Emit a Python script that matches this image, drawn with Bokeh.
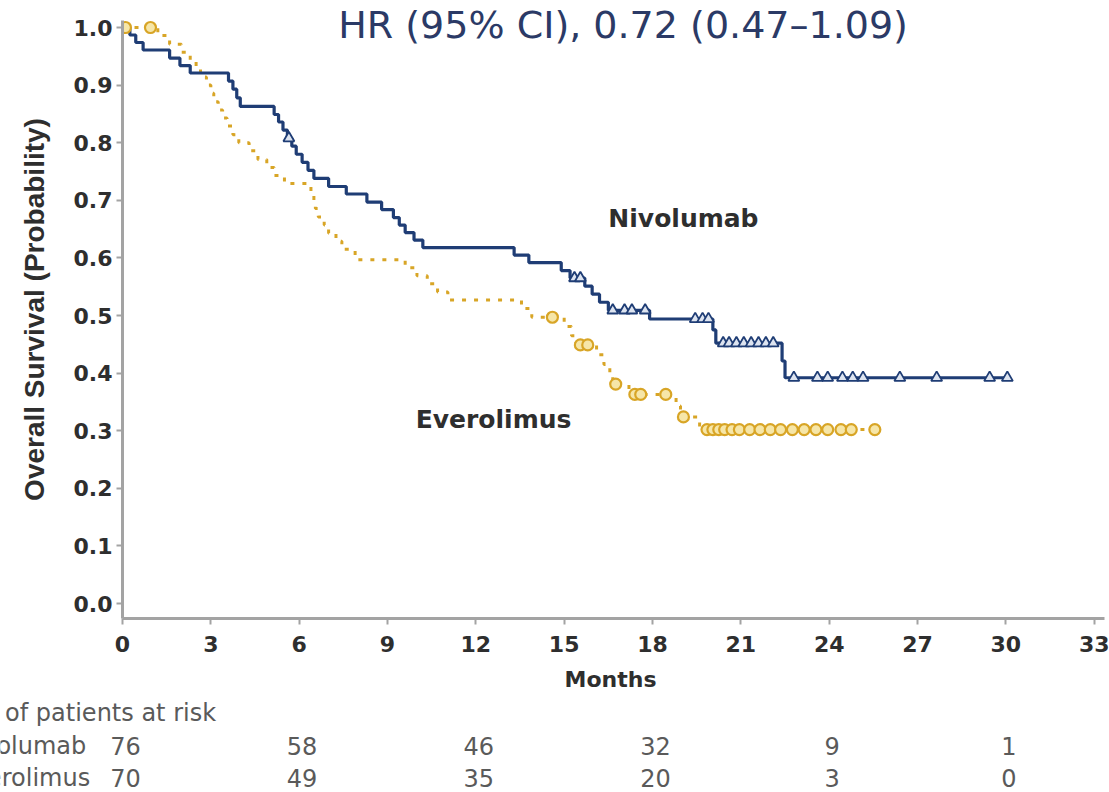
from bokeh.plotting import figure
from bokeh.layouts import column
from bokeh.models import Label, FixedTicker, NumeralTickFormatter, Range1d
from bokeh.embed import file_html
from bokeh.resources import INLINE

# ---- data -------------------------------------------------------------
month_ticks = list(range(0, 34, 3))
prob_ticks = [i / 10 for i in range(11)]

# Nivolumab: event times (months) and survival after each event
nivo_event_t = [0.25, 0.45, 0.70, 1.60, 1.95, 2.30, 3.60, 3.75, 3.88, 4.00,
                5.15, 5.30, 5.45, 5.60, 5.75, 5.90, 6.10, 6.30, 6.50, 7.00,
                7.60, 8.30, 8.80, 9.20, 9.40, 9.60, 9.90, 10.20, 13.30, 13.80,
                14.90, 15.20, 15.70, 15.95, 16.20, 16.50, 17.90, 20.05, 20.15,
                22.40, 22.50]
nivo_event_s = [0.987, 0.974, 0.961, 0.947, 0.934, 0.921, 0.907, 0.893, 0.878, 0.863,
                0.849, 0.836, 0.822, 0.808, 0.794, 0.780, 0.766, 0.752, 0.738, 0.724,
                0.711, 0.697, 0.684, 0.670, 0.657, 0.644, 0.631, 0.618, 0.605, 0.592,
                0.578, 0.565, 0.551, 0.537, 0.523, 0.509, 0.494, 0.475, 0.452,
                0.421, 0.392]
nivo_censor_t = [5.65, 15.35, 15.55, 16.65, 17.05, 17.30, 17.75, 19.45, 19.70, 19.90,
                 20.40, 20.60, 20.85, 21.10, 21.35, 21.60, 21.85, 22.10,
                 22.80, 23.60, 23.95, 24.45, 24.80, 25.15, 26.40, 27.65, 29.45, 30.05]

# Everolimus: event times (months) and survival after each event
evero_event_t = [1.20, 1.60, 2.00, 2.30, 2.50, 2.65, 2.85, 3.00, 3.10, 3.25,
                 3.40, 3.55, 3.75, 3.95, 4.30, 4.60, 4.90, 5.15, 5.50, 6.40,
                 6.50, 6.55, 6.65, 6.85, 7.00, 7.25, 7.45, 7.90, 9.60, 10.00,
                 10.35, 10.70, 11.05, 13.55, 13.90, 15.00, 15.25, 15.40, 16.10, 16.35,
                 16.55, 16.65, 17.20, 18.80, 18.95, 19.60]
evero_event_s = [0.986, 0.971, 0.957, 0.943, 0.929, 0.914, 0.900, 0.886, 0.871, 0.857,
                 0.843, 0.829, 0.814, 0.800, 0.786, 0.771, 0.757, 0.743, 0.729, 0.714,
                 0.700, 0.686, 0.671, 0.657, 0.643, 0.629, 0.615, 0.597, 0.583, 0.569,
                 0.555, 0.541, 0.527, 0.512, 0.497, 0.481, 0.465, 0.449, 0.432, 0.415,
                 0.398, 0.381, 0.363, 0.343, 0.324, 0.302]
evero_censor_t = [0.10, 0.95, 14.60, 15.55, 15.80, 16.75, 17.40, 17.60, 18.45, 19.05,
                  19.85, 20.05, 20.25, 20.45, 20.70, 20.95, 21.30, 21.65, 22.00,
                  22.35, 22.75, 23.15, 23.55, 23.95, 24.40, 24.75, 25.55]

# number at risk
risk_months = [0, 6, 12, 18, 24, 30]
nivo_at_risk = [76, 58, 46, 32, 9, 1]
evero_at_risk = [70, 49, 35, 20, 3, 0]

arms = ["Nivolumab", "Everolimus"]
hr_text = "HR (95% CI), 0.72 (0.47\u20131.09)"

# ---- styling ------------------------------------------------------------
NAVY = "#1f3d75"
GOLD = "#d8a526"
AXIS_GREY = "#a3a3a3"
TEXT_DARK = "#2e2e2e"
TEXT_GREY = "#5a5a5a"

W = 1109
LEFT, RIGHT = 122, 5
X_MAX = 33.35
MAIN_H = 664
TABLE_H = 792 - MAIN_H
PX_PER_MONTH = (W - LEFT - RIGHT) / X_MAX


def km_path(times, survs, end):
    xs = [0.0] + list(times) + [end]
    ys = [1.0] + list(survs) + [survs[-1]]
    return xs, ys


def surv_at(t, times, survs):
    s = 1.0
    for ti, si in zip(times, survs):
        if ti <= t:
            s = si
    return s


# ---- main survival plot ------------------------------------------------------
p = figure(width=W, height=MAIN_H,
           x_range=Range1d(0, X_MAX), y_range=Range1d(-0.026, 1.0469),
           output_backend="svg", toolbar_location=None,
           min_border_left=LEFT, min_border_right=RIGHT,
           min_border_top=0, min_border_bottom=MAIN_H - 618)
p.frame_align = False
p.outline_line_color = None
p.xgrid.visible = False
p.ygrid.visible = False
p.background_fill_color = "white"
p.border_fill_color = "white"

for ax in (p.xaxis[0], p.yaxis[0]):
    ax.axis_line_color = AXIS_GREY
    ax.axis_line_width = 3
    ax.major_tick_line_color = AXIS_GREY
    ax.major_tick_line_width = 2
    ax.major_tick_in = 0
    ax.major_tick_out = 6
    ax.minor_tick_line_color = None
    ax.major_label_text_font = "DejaVu Sans"
    ax.major_label_text_font_style = "bold"
    ax.major_label_text_font_size = "22px"
    ax.major_label_text_color = TEXT_DARK
    ax.axis_label_text_font_style = "bold"
    ax.axis_label_text_color = TEXT_DARK

p.xaxis.ticker = FixedTicker(ticks=month_ticks)
p.yaxis.ticker = FixedTicker(ticks=prob_ticks)
p.yaxis.formatter = NumeralTickFormatter(format="0.0")
p.yaxis.bounds = (-0.026, 1.012)
p.xaxis.major_label_standoff = 11
p.yaxis.major_label_standoff = 4

p.yaxis.axis_label = "Overall Survival (Probability)"
p.yaxis.axis_label_text_font = "Liberation Sans"
p.yaxis.axis_label_text_font_size = "28px"
p.yaxis.axis_label_standoff = 21

ex, ey = km_path(evero_event_t, evero_event_s, max(evero_censor_t))
p.step(ex, ey, mode="after", line_color=GOLD, line_width=3, line_dash="4 8")

nx, ny = km_path(nivo_event_t, nivo_event_s, max(nivo_censor_t))
p.step(nx, ny, mode="after", line_color=NAVY, line_width=3.2)

p.scatter(nivo_censor_t, [surv_at(t, nivo_event_t, nivo_event_s) for t in nivo_censor_t],
          marker="triangle", size=11, line_color=NAVY, line_width=1.8,
          fill_color="#dde4f0")
p.scatter(evero_censor_t, [surv_at(t, evero_event_t, evero_event_s) for t in evero_censor_t],
          marker="circle", size=11, line_color=GOLD, line_width=2.2,
          fill_color="#f6e6a8")

p.add_layout(Label(x=17.0, y=1.0035, text=hr_text, text_align="center",
                   text_baseline="middle", text_font="DejaVu Sans",
                   text_font_size="38px", text_color="#2b3a66"))
p.add_layout(Label(x=19.05, y=0.668, text=arms[0], text_align="center",
                   text_baseline="middle", text_font="DejaVu Sans",
                   text_font_style="bold", text_font_size="25px",
                   text_color=TEXT_DARK))
p.add_layout(Label(x=12.6, y=0.320, text=arms[1], text_align="center",
                   text_baseline="middle", text_font="DejaVu Sans",
                   text_font_style="bold", text_font_size="25px",
                   text_color=TEXT_DARK))

# ---- axis title and number-at-risk table, on the same month scale ---------------
t = figure(width=W, height=TABLE_H,
           x_range=Range1d(-LEFT / PX_PER_MONTH, X_MAX + RIGHT / PX_PER_MONTH),
           y_range=Range1d(TABLE_H, 0),
           x_axis_location=None, y_axis_location=None,
           output_backend="svg", toolbar_location=None,
           min_border_left=0, min_border_right=0,
           min_border_top=0, min_border_bottom=0)
t.frame_align = False
t.grid.visible = False
t.outline_line_color = None
t.background_fill_color = "white"
t.border_fill_color = "white"

MONTHS_Y = 15
HEADER_Y = 48
ROW_Y = [81, 113]
TABLE_X = -5.6

t.add_layout(Label(x=X_MAX / 2 - 0.1, y=MONTHS_Y, text="Months", text_align="center",
                   text_baseline="middle", text_font="DejaVu Sans",
                   text_font_style="bold", text_font_size="22px",
                   text_color=TEXT_DARK))
t.add_layout(Label(x=TABLE_X, y=HEADER_Y, text="No. of patients at risk",
                   text_align="left", text_baseline="middle",
                   text_font="DejaVu Sans", text_font_size="24px",
                   text_color=TEXT_GREY))
for name, counts, ry in zip(arms, [nivo_at_risk, evero_at_risk], ROW_Y):
    t.add_layout(Label(x=TABLE_X, y=ry, text=name, text_align="left",
                       text_baseline="middle", text_font="DejaVu Sans",
                       text_font_size="24px", text_color=TEXT_GREY))
    for m, n in zip(risk_months, counts):
        t.add_layout(Label(x=m + 0.1, y=ry, text=str(n), text_align="center",
                           text_baseline="middle", text_font="DejaVu Sans",
                           text_font_size="24px", text_color=TEXT_GREY))

layout = column(p, t, spacing=0)
open("out.html", "w").write(file_html(layout, INLINE))
